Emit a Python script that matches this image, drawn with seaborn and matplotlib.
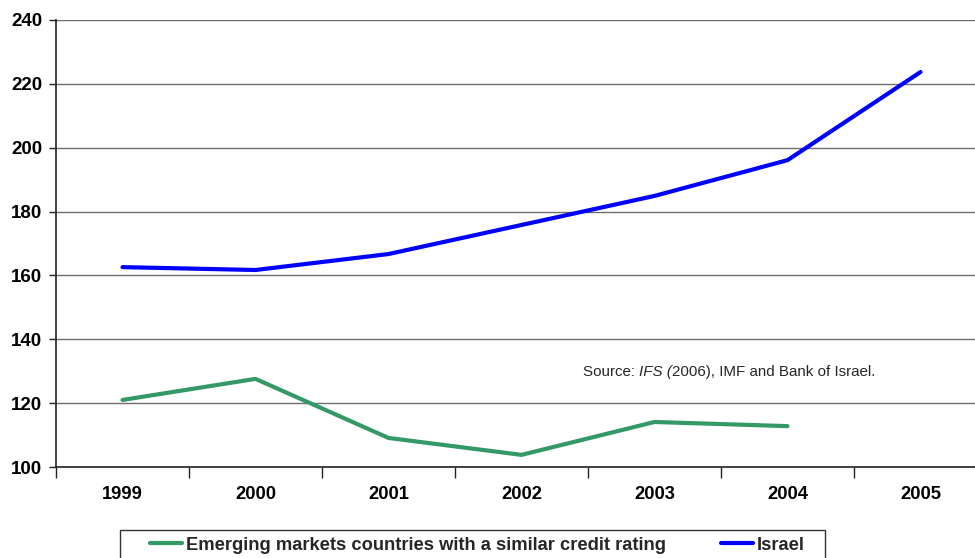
import matplotlib
matplotlib.use("Agg")
import matplotlib.pyplot as plt
from matplotlib.patches import Rectangle
from matplotlib.lines import Line2D
from matplotlib.ticker import FixedLocator
import numpy as np
import pandas as pd
import seaborn as sns

years = ["1999", "2000", "2001", "2002", "2003", "2004", "2005"]
emerging = [121.0, 127.6, 109.1, 103.8, 114.1, 112.8, np.nan]
israel = [162.6, 161.7, 166.7, 175.8, 184.9, 196.1, 223.7]
y_ticks = [100, 120, 140, 160, 180, 200, 220, 240]

label_em = "Emerging markets countries with a similar credit rating"
label_il = "Israel"

df = pd.DataFrame({
    "year": years * 2,
    "value": emerging + israel,
    "series": [label_em] * len(years) + [label_il] * len(years),
})

sns.set_theme(style="white")
plt.rcParams["font.family"] = ["Liberation Sans", "DejaVu Sans"]

W, H = 975, 558
fig = plt.figure(figsize=(W / 100, H / 100), dpi=100)
ax = fig.add_axes([56 / W, (H - 467) / H, 931 / W, 447 / H])

sns.lineplot(data=df, x="year", y="value", hue="series",
             palette={label_em: "#339966", label_il: "#0000FF"},
             linewidth=3.0, ax=ax, legend=False, sort=False)

ax.set_xlim(-0.5, 6.5)
ax.set_ylim(100, 240)
ax.set_yticks(y_ticks)
ax.set_xticks(range(len(years)))
ax.set_xticklabels(years)
ax.xaxis.set_minor_locator(FixedLocator(np.arange(-0.5, 6.6, 1.0)))
ax.set_xlabel("")
ax.set_ylabel("")

ax.grid(axis="y", color="#6e6e6e", linewidth=1.0)
ax.grid(axis="x", visible=False)
ax.set_axisbelow(True)

for side in ["top", "right"]:
    ax.spines[side].set_visible(False)
for side in ["left", "bottom"]:
    ax.spines[side].set_color("#222222")
    ax.spines[side].set_linewidth(1.2)

ax.tick_params(axis="y", which="major", length=5, width=1.0, color="#222222",
               left=True, pad=5, labelsize=13.5)
ax.tick_params(axis="x", which="major", length=0, pad=14, labelsize=13.2)
ax.tick_params(axis="x", which="minor", length=8, width=1.0, color="#222222",
               bottom=True, direction="out")
for lbl in ax.get_xticklabels() + ax.get_yticklabels():
    lbl.set_fontweight("bold")
    lbl.set_color("black")

# source note, with the publication name in italics
src_size = 10.9
t0 = ax.text(3.46, 129.9, "Source: ", fontsize=src_size, va="center", ha="left")
t1 = ax.annotate("IFS (", xy=(1, 0), xycoords=t0,
                 fontsize=src_size, style="italic", va="bottom", ha="left")
ax.annotate("2006), IMF and Bank of Israel.", xy=(1, 0), xycoords=t1,
            fontsize=src_size, va="bottom", ha="left")

# legend box below the axes
fig.patches.append(Rectangle((120 / W, -0.05), 705 / W, (H - 530) / H + 0.05,
                             transform=fig.transFigure, fill=False,
                             edgecolor="#333333", linewidth=1.0))
handles = [Line2D([], [], color="#339966", linewidth=3.0),
           Line2D([], [], color="#0000FF", linewidth=3.0)]
fig.legend(handles, [label_em, label_il], loc="center left",
           bbox_to_anchor=(150 / W, (H - 545) / H), ncol=2,
           frameon=False, handlelength=1.75, handletextpad=0.2,
           columnspacing=3.0, borderpad=0, borderaxespad=0,
           prop={"weight": "bold", "size": 13.2})

fig.savefig("out.png", dpi=100)
